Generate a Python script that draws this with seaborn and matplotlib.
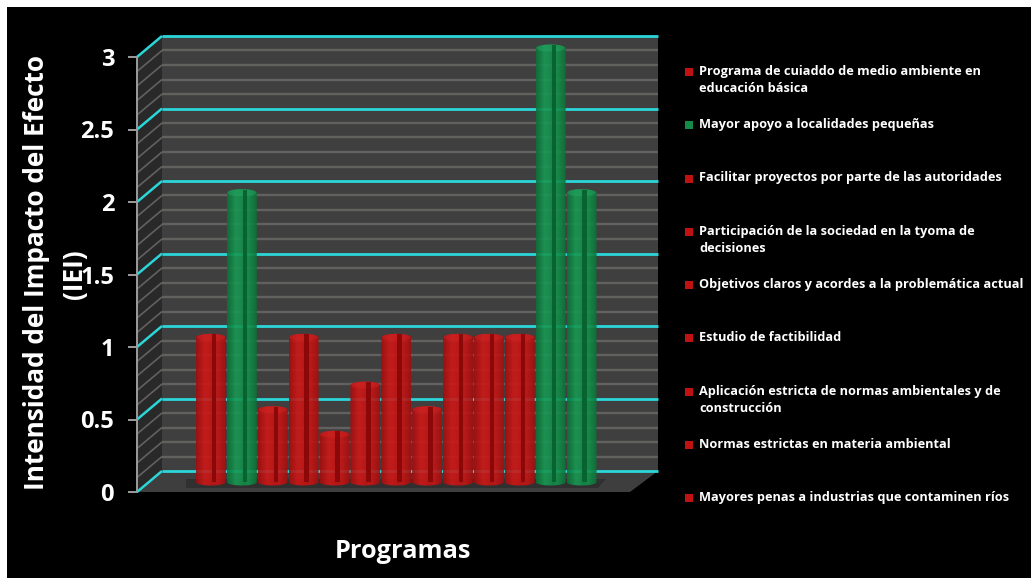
import numpy as np
import pandas as pd
import matplotlib
matplotlib.use("Agg")
import matplotlib.pyplot as plt
from matplotlib.patches import Polygon, Rectangle, Ellipse
from matplotlib.ticker import MultipleLocator
import seaborn as sns

# Impact intensity per programme
programas = [f"P{i}" for i in range(1, 14)]
valores = [1, 2, 0.5, 1, 0.33, 0.67, 1, 0.5, 1, 1, 1, 3, 2]
tipos = ["rojo", "verde", "rojo", "rojo", "rojo", "rojo", "rojo", "rojo", "rojo",
         "rojo", "rojo", "verde", "verde"]
etiquetas = [
    "Programa de cuiaddo de medio ambiente en\neducación básica",
    "Mayor apoyo a localidades pequeñas",
    "Facilitar proyectos por parte de las autoridades",
    "Participación de la sociedad en la tyoma de\ndecisiones",
    "Objetivos claros y acordes a la problemática actual",
    "Estudio de factibilidad",
    "Aplicación estricta de normas ambientales y de\nconstrucción",
    "Normas estrictas en materia ambiental",
    "Mayores penas a industrias que contaminen ríos",
]
ticks_y = [0, 0.5, 1, 1.5, 2, 2.5, 3]
ticklabels_y = ["0", "0.5", "1", "1.5", "2", "2.5", "3"]
titulo_y = "Intensidad del Impacto del Efecto"
subtitulo_y = "(IEI)"
titulo_x = "Programas"

W, H = 1031, 578
CYAN = "#2bd6d8"
GRID = "#636160"
COLORES = {"rojo": "#c01212", "verde": "#128a48"}
# across-width shading of each cylinder, edge to edge
PERFIL = {
    "rojo": ["#a00e0e", "#bc1212", "#cf1818", "#cc1616", "#c21414", "#c61616", "#b81212", "#a00e0e"],
    "verde": ["#0d7038", "#118545", "#199a54", "#189450", "#128a48", "#16904c", "#108242", "#0d7038"],
}
RAYA = {"rojo": "#8a0707", "verde": "#07622f"}
BRILLO = {"rojo": "#d62424", "verde": "#22a762"}


def rect_px(left, top, right, bottom):
    return [left / W, 1 - bottom / H, (right - left) / W, (bottom - top) / H]


sns.set_theme(style="dark", rc={"axes.grid": False})
plt.rcParams["font.family"] = ["Open Sans", "DejaVu Sans"]

fig = plt.figure(figsize=(W / 100, H / 100), dpi=100, facecolor="white")

# black panel inside the thin white margin, with the 3D box drawn in pixel space
fondo = fig.add_axes([0, 0, 1, 1], zorder=0)
fondo.set_xlim(0, W)
fondo.set_ylim(H, 0)
fondo.axis("off")
fondo.add_patch(Rectangle((7, 7), W, H, color="black", lw=0))

FX0, FX1, FY0, FY3 = 137, 630, 492, 57      # front plane
BX0, BX1, BY0, BY3 = 162, 658, 471, 36      # back wall
fondo.add_patch(Polygon([(BX0, BY3), (BX1, BY3), (BX1, BY0), (BX0, BY0)], color="#3f3f3f", lw=0))
fondo.add_patch(Polygon([(FX0, FY3), (BX0, BY3), (BX0, BY0), (FX0, FY0)], color="#292929", lw=0))
fondo.add_patch(Polygon([(FX0, FY0), (BX0, BY0), (BX1, BY0), (FX1, FY0)], color="#3e3e3e", lw=0))
fondo.add_patch(Polygon([(186, 479), (606, 479), (598, 488), (186, 488)], color="#303030", lw=0))

for v in np.arange(0, 3.01, 0.1):
    mayor = abs(v * 2 - round(v * 2)) < 1e-6
    yf = FY0 + (FY3 - FY0) * v / 3
    yb = BY0 + (BY3 - BY0) * v / 3
    fondo.plot([FX0, BX0], [yf, yb], color=CYAN if mayor else GRID,
               lw=1.8 if mayor else 1.2, solid_capstyle="butt")
    fondo.plot([BX0, BX1], [yb, yb], color=CYAN if mayor else GRID,
               lw=2.0 if mayor else 1.7, solid_capstyle="butt")

# front plane: carries the value axis
eje = fig.add_axes(rect_px(FX0, FY3, FX1, FY0), zorder=1)
eje.patch.set_alpha(0)
eje.set_xlim(0, 1)
eje.set_ylim(0, 3)
eje.set_xticks([])
eje.set_yticks(ticks_y, ticklabels_y)
eje.yaxis.set_minor_locator(MultipleLocator(0.1))
for s in ("top", "right", "bottom"):
    eje.spines[s].set_visible(False)
eje.spines["left"].set_color("#9c9c9c")
eje.spines["left"].set_linewidth(1.4)
eje.tick_params(axis="y", which="major", length=6.5, width=1.4, color="#9c9c9c",
                labelcolor="white", labelsize=17, pad=10, left=True)
eje.tick_params(axis="y", which="minor", left=False)
for t in eje.get_yticklabels():
    t.set_fontweight("bold")

# bar plane sits midway through the depth of the box
PX_UNIDAD = 144.67
Y_BASE, MARGEN = 482, 0.1
barras = fig.add_axes(rect_px(195.5, Y_BASE - (3 + MARGEN) * PX_UNIDAD, 597,
                              Y_BASE + MARGEN * PX_UNIDAD), zorder=2)
barras.patch.set_alpha(0)
df = pd.DataFrame({"programa": programas, "valor": valores, "tipo": tipos})
sns.barplot(data=df, x="programa", y="valor", hue="tipo", order=programas,
            palette=COLORES, dodge=False, width=0.97, saturation=1, legend=False, ax=barras)
barras.set_xlim(-0.5, 12.5)
barras.set_ylim(-MARGEN, 3 + MARGEN)
barras.axis("off")

e = 3.5 / PX_UNIDAD   # half-height of the cylinder caps
for patch in sorted([p for p in barras.patches if p.get_height() > 0], key=lambda p: p.get_x()):
    x0, w, h = patch.get_x(), patch.get_width(), patch.get_height()
    xc = x0 + w / 2
    rojo = np.allclose(patch.get_facecolor()[:3], matplotlib.colors.to_rgb(COLORES["rojo"]))
    clave = "rojo" if rojo else "verde"
    t = np.linspace(0, np.pi, 30)
    contorno = np.r_[np.c_[xc + w / 2 * np.cos(t), h + e * np.sin(t)],
                     np.c_[xc - w / 2 * np.cos(t), -e * np.sin(t)]]
    silueta = Polygon(contorno, closed=True, facecolor="none", lw=0, zorder=3)
    barras.add_patch(silueta)
    patch.set_visible(False)
    cmap = matplotlib.colors.LinearSegmentedColormap.from_list(clave, PERFIL[clave])
    img = barras.imshow(np.linspace(0, 1, 64)[None, :], cmap=cmap, aspect="auto", alpha=0.9,
                        extent=[x0, x0 + w, -2 * e, h + 2 * e], zorder=3.1)
    img.set_clip_path(silueta)
    barras.add_patch(Ellipse((xc, h), w * 0.96, 2 * e, facecolor=BRILLO[clave], lw=0, alpha=0.45, zorder=3.2))
    barras.add_patch(Rectangle((xc + 0.03 * w, 0), 0.15 * w, h + e * 0.9,
                               facecolor=RAYA[clave], lw=0, alpha=0.95, zorder=3.3))
barras.set_xlim(-0.5, 12.5)
barras.set_ylim(-MARGEN, 3 + MARGEN)

# titles and legend live on a transparent layer above everything
capa = fig.add_axes([0, 0, 1, 1], zorder=3)
capa.set_xlim(0, W)
capa.set_ylim(H, 0)
capa.axis("off")
capa.text(403, 551, titulo_x, ha="center", va="center", color="white",
          fontsize=18.3, fontweight="bold")
capa.text(37, 273, titulo_y, ha="center", va="center", rotation=90, color="white",
          fontsize=18.8, fontweight="bold")
capa.text(75, 274, subtitulo_y, ha="center", va="center", rotation=90, color="white",
          fontsize=18.8, fontweight="bold")

for i, (etq, tipo) in enumerate(zip(etiquetas, tipos)):
    y = 72 + 53.25 * i
    capa.add_patch(Rectangle((685, y - 4), 8, 8, color=COLORES[tipo], lw=0))
    capa.text(699, y - 7, etq, ha="left", va="top", color="white", fontsize=9.15,
              fontweight="bold", linespacing=1.42)

fig.savefig("out.png", dpi=100)
